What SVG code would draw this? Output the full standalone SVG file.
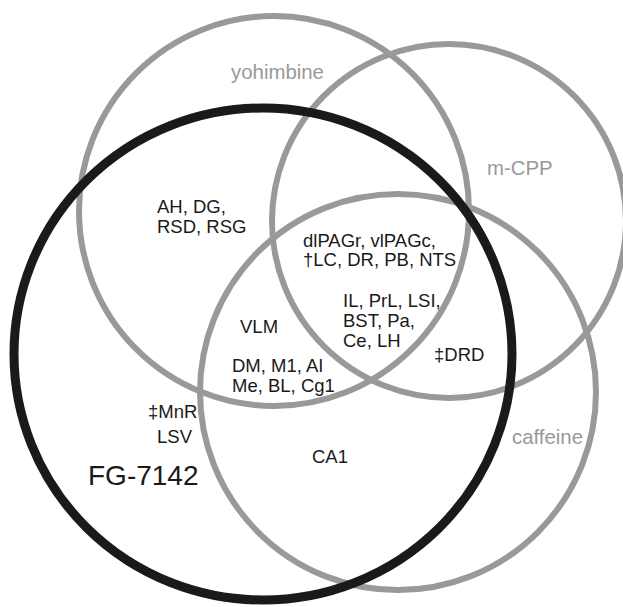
<svg xmlns="http://www.w3.org/2000/svg" width="623" height="607" viewBox="0 0 623 607">
<style>
.set{fill:none;stroke:#999999;stroke-width:6}
.fg{fill:none;stroke:#1a1a1a;stroke-width:9}
.lbl{font-family:"Liberation Sans",Arial,sans-serif;font-size:20.4px;fill:#999999}
.big{font-family:"Liberation Sans",Arial,sans-serif;font-size:28px;fill:#1a1a1a}
.reg{font-family:"Liberation Sans",Arial,sans-serif;font-size:18.5px;fill:#1a1a1a}
</style>
<rect width="623" height="607" fill="#ffffff"/>
<g id="yohimbine">
<circle class="set" cx="274" cy="211" r="195"/>
<text class="lbl" x="231" y="79">yohimbine</text>
</g>
<g id="m-CPP">
<circle class="set" cx="449" cy="221" r="177"/>
<text class="lbl" x="487" y="175">m-CPP</text>
</g>
<g id="caffeine">
<circle class="set" cx="398" cy="392" r="198"/>
<text class="lbl" x="512" y="444">caffeine</text>
</g>
<g id="FG-7142">
<ellipse class="fg" cx="263" cy="354" rx="249" ry="246"/>
<text class="big" x="88" y="485">FG-7142</text>
</g>
<g id="connectors"></g>
<g id="region-yohimbine-FG">
<text class="reg" x="157" y="213">AH, DG,</text>
<text class="reg" x="157" y="233">RSD, RSG</text>
</g>
<g id="region-all-four">
<text class="reg" x="303" y="247">dlPAGr, vlPAGc,</text>
<text class="reg" x="303" y="266">†LC, DR, PB, NTS</text>
</g>
<g id="region-mcpp-caffeine-FG">
<text class="reg" x="343" y="307">IL, PrL, LSI,</text>
<text class="reg" x="343" y="327">BST, Pa,</text>
<text class="reg" x="343" y="347">Ce, LH</text>
</g>
<g id="region-yohimbine-caffeine-FG">
<text class="reg" x="240" y="333">VLM</text>
<text class="reg" x="232" y="372">DM, M1, AI</text>
<text class="reg" x="232" y="392">Me, BL, Cg1</text>
</g>
<g id="region-DRD">
<text class="reg" x="434" y="361">‡DRD</text>
</g>
<g id="region-FG-only">
<text class="reg" x="148" y="418">‡MnR</text>
<text class="reg" x="157" y="443">LSV</text>
</g>
<g id="region-caffeine-FG">
<text class="reg" x="312" y="463">CA1</text>
</g>
</svg>
